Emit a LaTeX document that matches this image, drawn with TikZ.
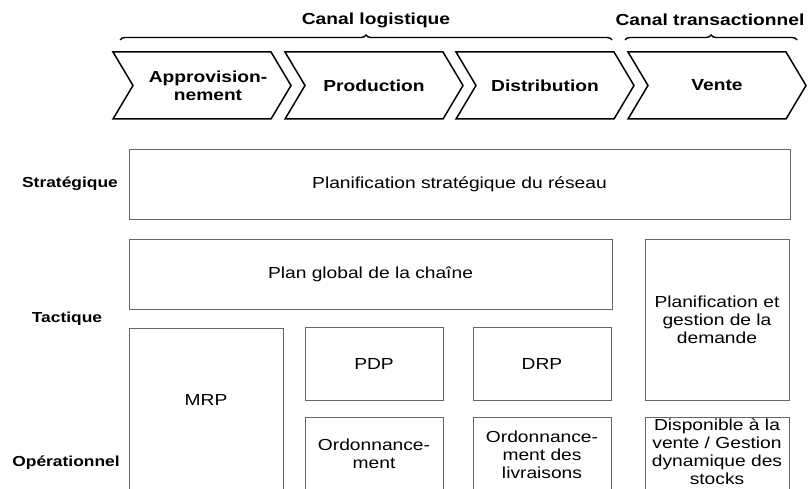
\documentclass[tikz,border=0pt]{standalone}
\usepackage{fontspec}
\setmainfont{Liberation Sans}[FakeStretch=1.2]
\usetikzlibrary{decorations.pathreplacing}
\begin{document}
\begin{tikzpicture}[x=1pt,y=-1pt,
  chevron/.style={draw=black,line width=1.5pt,line join=miter},
  box/.style={draw=black!60,line width=1pt},
  brace/.style={draw=black,line width=1.4pt,decorate,decoration={brace,amplitude=5pt}},
  head/.style={font=\bfseries\fontsize{16}{18}\selectfont,align=center,inner sep=0pt},
  level/.style={font=\bfseries\fontsize{14.5}{17}\selectfont,inner sep=0pt},
  txt/.style={font=\fontsize{16}{18}\selectfont,align=center,inner sep=0pt}]
\useasboundingbox (0,0) rectangle (810,489);
\clip (0,0) rectangle (810,489);

% channel braces and their titles
\coordinate (b1s) at (120,40);
\coordinate (b1e) at (612,40);
\coordinate (b2s) at (625,40);
\coordinate (b2e) at (797,40);
\draw[brace] (b1s) -- (b1e);
\draw[brace] (b2s) -- (b2e);
\node[head] (canlog) at (376,20) {Canal logistique};
\node[head] (cantra) at (710,20) {Canal transactionnel};

% process chevrons
\foreach \L/\name/\label/\dx in {113/appro/{Approvision-\\nement}/95,285/prod/Production/89,456/dist/Distribution/89,628/vente/Vente/89}{
  \draw[chevron] (\L,52) -- (\L+158,52) -- (\L+178,85.5) -- (\L+158,119)
                 -- (\L,119) -- (\L+20,85.5) -- cycle;
  \node[head] (\name) at (\L+\dx,85.5) {\label};
}

% decision levels
\node[level] (lstrat) at (70,184) {Stratégique};
\node[level] (ltact)  at (67,319) {Tactique};
\node[level] (lope)   at (66,463) {Opérationnel};

% planning boxes
\draw[box] (129,150) rectangle (790,219);
\node[txt] (strat) at (459.5,184.5) {Planification stratégique du réseau};

\draw[box] (129,239) rectangle (612,309);
\node[txt] (pgc) at (370.5,274) {Plan global de la chaîne};

\draw[box] (645,239) rectangle (789,400);
\node[txt] (pgd) at (717,320) {Planification et\\gestion de la\\demande};

\draw[box] (129,328) rectangle (283,500);
\node[txt] (mrp) at (206,400) {MRP};

\draw[box] (305,327) rectangle (443,400);
\node[txt] (pdp) at (374,363.5) {PDP};

\draw[box] (473,327) rectangle (611,400);
\node[txt] (drp) at (542,363.5) {DRP};

\draw[box] (305,417) rectangle (443,500);
\node[txt] (ordo) at (374,454) {Ordonnance-\\ment};

\draw[box] (473,417) rectangle (611,500);
\node[txt] (ordl) at (542,455) {Ordonnance-\\ment des\\livraisons};

\draw[box] (645,417) rectangle (789,500);
\node[txt] (dispo) at (717,452) {Disponible à la\\vente / Gestion\\dynamique des\\stocks};
\end{tikzpicture}
\end{document}
